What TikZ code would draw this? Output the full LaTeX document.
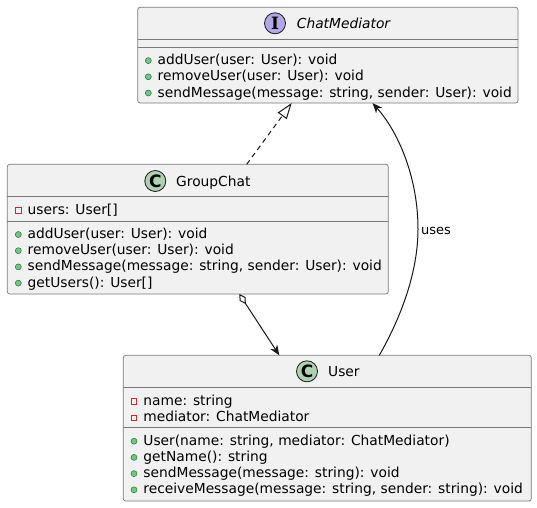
\documentclass[tikz,border=0pt]{standalone}
\usepackage{fontspec}
\setmainfont{DejaVu Sans}
\newfontfamily\badgeserif{DejaVu Serif}
\usetikzlibrary{arrows.meta,calc}
\definecolor{boxfill}{HTML}{F1F1F1}
\definecolor{ink}{HTML}{181818}
\definecolor{boxline}{HTML}{7A7A7A}
\definecolor{ifill}{HTML}{B4A7E5}
\definecolor{cfill}{HTML}{ADD1B2}
\definecolor{privred}{HTML}{C82930}
\definecolor{pubfill}{HTML}{84BE84}
\definecolor{publine}{HTML}{038048}
\newcommand\pubm[4]{\node[pubicon] (#1i) at (#2,#3+1) {};\node[member] (#1) at (#2+9.2,#3) {#4};}
\newcommand\privm[4]{\node[privicon] (#1i) at (#2,#3+1.5) {};\node[member] (#1) at (#2+9.2,#3) {#4};}
\begin{document}
\begin{tikzpicture}[x=1pt,y=-1pt,
 classbox/.style={draw=boxline, line width=0.7pt, fill=boxfill, rounded corners=2.5pt, anchor=north west, inner sep=0pt, outer sep=0pt},
 sepline/.style={draw=boxline, line width=0.7pt},
 member/.style={anchor=west, inner sep=0pt, text height=10pt, text depth=0pt, font=\fontsize{13.8}{16}\selectfont},
 titletext/.style={anchor=west, inner sep=0pt, text height=10pt, text depth=0pt, font=\fontsize{13.8}{16}\selectfont},
 badge/.style={circle, draw=ink, line width=0.8pt, minimum size=21pt, inner sep=0pt},
 pubicon/.style={circle, draw=publine, fill=pubfill, line width=0.5pt, minimum size=6pt, inner sep=0pt},
 privicon/.style={rectangle, draw=privred, line width=0.8pt, minimum size=5.5pt, inner sep=0pt},
 conn/.style={draw=ink, line width=1pt},
 lbl/.style={anchor=west, inner sep=0pt, text height=9pt, text depth=0pt, font=\fontsize{13}{15}\selectfont},
 >={Stealth[length=10pt,width=8pt,inset=3pt]}
]
\useasboundingbox (0,0) rectangle (537,507);
\fill[white] (0,0) rectangle (537,507);

% ChatMediator
\node[classbox, minimum width=380.3pt, minimum height=95.7pt] (cm) at (137.7,7.3) {};
\draw[sepline] (cm.west |- 0,39) -- (cm.east |- 0,39);
\draw[sepline] (cm.west |- 0,47.3) -- (cm.east |- 0,47.3);
\node[badge, fill=ifill, font=\badgeserif\fontsize{17}{17}\selectfont\bfseries] (cmb) at (275,23.3) {I};
\node[titletext, font=\fontsize{13.8}{16}\selectfont\itshape] (cmt) at (296.7,23.3) {ChatMediator};
\pubm{cma}{148.3}{59.6}{addUser(user: User): void}
\pubm{cmr}{148.3}{75.8}{removeUser(user: User): void}
\pubm{cms}{148.3}{92}{sendMessage(message: string, sender: User): void}

% GroupChat
\node[classbox, minimum width=381pt, minimum height=129.7pt] (gc) at (7.3,164.3) {};
\draw[sepline] (gc.west |- 0,196.7) -- (gc.east |- 0,196.7);
\draw[sepline] (gc.west |- 0,221.3) -- (gc.east |- 0,221.3);
\node[badge, fill=cfill, font=\fontsize{17}{17}\selectfont\bfseries] (gcb) at (155.3,181) {C};
\node[titletext] (gct) at (176,181) {GroupChat};
\privm{gcu}{18.3}{209}{users: User[]}
\pubm{gca}{18.3}{233.5}{addUser(user: User): void}
\pubm{gcr}{18.3}{249.7}{removeUser(user: User): void}
\pubm{gcs}{18.3}{265.9}{sendMessage(message: string, sender: User): void}
\pubm{gcg}{18.3}{282.1}{getUsers(): User[]}

% User
\node[classbox, minimum width=408pt, minimum height=145.7pt] (us) at (123.3,355.3) {};
\draw[sepline] (us.west |- 0,387.7) -- (us.east |- 0,387.7);
\draw[sepline] (us.west |- 0,427.3) -- (us.east |- 0,427.3);
\node[badge, fill=cfill, font=\fontsize{17}{17}\selectfont\bfseries] (usb) at (307,371.3) {C};
\node[titletext] (ust) at (328,371.3) {User};
\privm{usn}{134}{400}{name: string}
\privm{usm}{134}{416.4}{mediator: ChatMediator}
\pubm{usc}{134}{440.2}{User(name: string, mediator: ChatMediator)}
\pubm{usg}{134}{456.4}{getName(): string}
\pubm{uss}{134}{472.6}{sendMessage(message: string): void}
\pubm{usr}{134}{488.8}{receiveMessage(message: string, sender: string): void}

% connector end points
\coordinate (realS) at (246.7,0 |- gc.north);
\coordinate (realE) at (291.7,0 |- cm.south);
\coordinate (aggS) at (239.3,0 |- gc.south);
\coordinate (aggE) at (279.3,0 |- us.north);
\coordinate (useS) at (379.3,0 |- us.north);
\coordinate (useE) at (372.5,0 |- cm.south);
\coordinate (useM) at (418,229);

% realization
\draw[conn, dash pattern=on 5pt off 4pt, -{Triangle[open,length=16pt,width=11pt]}] (realS) -- (realE);
% aggregation
\draw[conn, {Diamond[open,length=12pt,width=7pt]}->] (aggS) -- (aggE);
% uses
\draw[conn, ->] (useS) .. controls (404,312) and (418,268) .. (useM) .. controls (418,180) and (400,134) .. (useE);
\node[lbl] (usesl) at (421,229.7) {uses};
\end{tikzpicture}
\end{document}
